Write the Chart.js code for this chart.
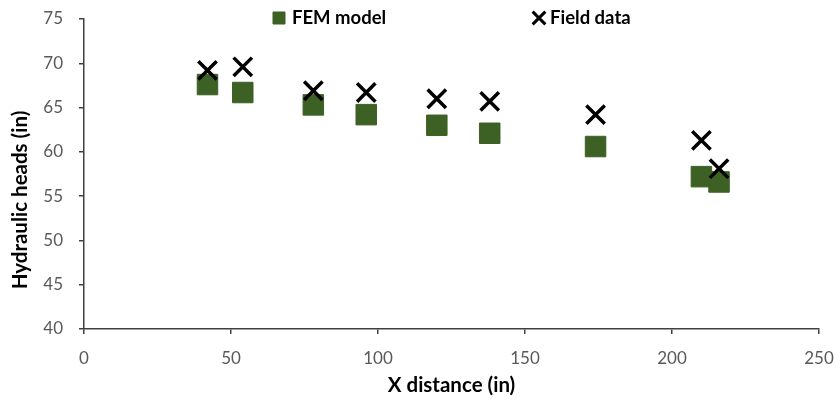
<!DOCTYPE html>
<html>
<head>
<meta charset="utf-8">
<script src="https://cdn.jsdelivr.net/npm/chart.js@4"></script>
<style>
  html, body { margin: 0; padding: 0; background: #fff; }
  #wrap { width: 836px; height: 400px; }
</style>
</head>
<body>
<div id="wrap"><canvas id="myChart" width="836" height="400"></canvas></div>
<script>
// values
const xDistance = [42, 54, 78, 96, 120, 138, 174, 210, 216];
const femHeads = [67.6, 66.7, 65.3, 64.2, 63.0, 62.1, 60.6, 57.2, 56.6];
const fieldHeads = [69.2, 69.6, 66.9, 66.7, 66.0, 65.7, 64.2, 61.3, 58.1];
const xTicks = [0, 50, 100, 150, 200, 250];
const yTicks = [40, 45, 50, 55, 60, 65, 70, 75];

const toPoints = (ys) => xDistance.map((x, i) => ({x: x, y: ys[i]}));

const axisColor = '#404040';
const tickColor = '#595959';
const yTitle = 'Hydraulic heads (in)';

// legend sits inside the plot, at the top (like the excel one)
const legendItemX = [273, 533];
const insideLegend = {
    id: 'insideLegend',
    afterDraw(chart) {
        const c = chart.ctx;
        const y = chart.chartArea.top - 1;
        c.save();
        c.font = 'bold 18.5px Lato';
        c.textBaseline = 'middle';
        c.textAlign = 'left';
        chart.data.datasets.forEach((ds, i) => {
            const x = legendItemX[i];
            const isCross = ds.pointStyle === 'crossRot';
            c.fillStyle = ds.backgroundColor;
            c.strokeStyle = ds.borderColor;
            c.lineWidth = isCross ? 3 : 1;
            Chart.helpers.drawPoint(c, {
                pointStyle: ds.pointStyle,
                radius: isCross ? 9 : 8.5,
                rotation: 0,
                borderWidth: isCross ? 3 : 1,
            }, x + 6, y);
            c.fillStyle = '#000000';
            c.fillText(ds.label, x + (isCross ? 17 : 19), y);
        });
        c.restore();
    }
};

// excel puts the y title a bit lower than the axis middle
const yTitlePlugin = {
    id: 'yTitlePlugin',
    afterDraw(chart) {
        const c = chart.ctx;
        c.save();
        c.translate(20, 200);
        c.rotate(-Math.PI / 2);
        c.font = 'bold 20.5px Lato';
        c.fillStyle = '#000000';
        c.textAlign = 'center';
        c.textBaseline = 'middle';
        c.fillText(yTitle, 0, 0);
        c.restore();
    }
};

const ctx = document.getElementById('myChart');
const myChart = new Chart(ctx, {
    type: 'scatter',
    data: {
        datasets: [{
            label: 'FEM model',
            data: toPoints(femHeads),
            order: 1,
            pointStyle: 'rect',
            pointRadius: 14.5,
            pointHoverRadius: 14.5,
            backgroundColor: '#3d6125',
            borderColor: '#3d6125',
            borderWidth: 1,
        },
        {
            label: 'Field data',
            data: toPoints(fieldHeads),
            order: 0,
            pointStyle: 'crossRot',
            pointRadius: 13,
            pointHoverRadius: 13,
            borderColor: '#000000',
            backgroundColor: '#000000',
            borderWidth: 3.5,
        }]
    },
    plugins: [{
        id: 'whiteBg',
        beforeDraw(chart) {
            const c = chart.ctx;
            c.save();
            c.fillStyle = '#ffffff';
            c.fillRect(0, 0, chart.width, chart.height);
            c.restore();
        }
    }, insideLegend, yTitlePlugin],
    options: {
        responsive: false,
        animation: false,
        layout: {
            padding: {top: 19, right: 17, left: 0, bottom: 0}
        },
        plugins: {
            tooltip: {enabled: false},
            legend: {display: false}
        },
        scales: {
            x: {
                type: 'linear',
                min: 0,
                max: 250,
                afterBuildTicks: (scale) => { scale.ticks = xTicks.map(v => ({value: v})); },
                afterFit: (scale) => { scale.height = 71; scale.paddingLeft = 0; scale.paddingRight = 0; },
                border: {display: true, color: axisColor, width: 1.5},
                grid: {display: true, drawOnChartArea: false, drawTicks: true, tickLength: 5, color: axisColor, lineWidth: 1.5},
                ticks: {color: tickColor, padding: 14, font: {family: 'Lato', size: 17}},
                title: {
                    display: true,
                    text: 'X distance (in)',
                    color: '#000000',
                    padding: {top: 4, bottom: 2},
                    font: {family: 'Lato', size: 20.5, weight: 'bold'},
                }
            },
            y: {
                type: 'linear',
                min: 40,
                max: 75,
                afterBuildTicks: (scale) => { scale.ticks = yTicks.map(v => ({value: v})); },
                afterFit: (scale) => { scale.width = 84; scale.paddingTop = 0; scale.paddingBottom = 0; },
                border: {display: true, color: axisColor, width: 1.5},
                grid: {display: true, drawOnChartArea: false, drawTicks: true, tickLength: 5, color: axisColor, lineWidth: 1.5},
                ticks: {color: tickColor, padding: 16, font: {family: 'Lato', size: 17}},
                title: {display: false}
            }
        }
    }
});
</script>
</body>
</html>
